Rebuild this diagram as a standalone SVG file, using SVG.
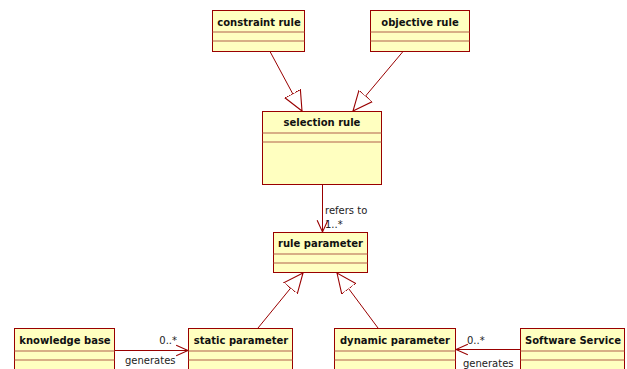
<svg xmlns="http://www.w3.org/2000/svg" width="627" height="369" viewBox="0 0 627 369">
  <style>
    .box { fill: #FFFFC0; stroke: #990000; stroke-width: 1; }
    .div { stroke: #B2604A; stroke-width: 1.2; }
    .title { font-family: "DejaVu Sans", Verdana, sans-serif; font-size: 10px; font-weight: bold; fill: #111; text-anchor: middle; }
    .lbl { font-family: "DejaVu Sans", Verdana, sans-serif; font-size: 10px; fill: #222; }
    .edge { stroke: #990000; stroke-width: 1; fill: none; }
  </style>
  <defs>
    <marker id="gen" markerUnits="userSpaceOnUse" markerWidth="22" markerHeight="22" refX="18" refY="8" orient="auto" viewBox="0 0 20 16">
      <path d="M18,8 L0,0 L0,16 Z" fill="#fff" stroke="#990000" stroke-width="1"/>
    </marker>
    <marker id="open" markerUnits="userSpaceOnUse" markerWidth="14" markerHeight="14" refX="11" refY="6" orient="auto" viewBox="0 0 13 12">
      <path d="M0,1 L11,6 L0,11" fill="none" stroke="#990000" stroke-width="1"/>
    </marker>
  </defs>

  <g id="connectors">
    <line class="edge" x1="270" y1="51.5" x2="302" y2="111" marker-end="url(#gen)"/>
    <line class="edge" x1="403" y1="51.5" x2="353" y2="111" marker-end="url(#gen)"/>
    <line class="edge" x1="322.5" y1="184.5" x2="322.5" y2="232" marker-end="url(#open)"/>
    <line class="edge" x1="258" y1="328" x2="303" y2="273" marker-end="url(#gen)"/>
    <line class="edge" x1="378" y1="328" x2="337" y2="273" marker-end="url(#gen)"/>
    <line class="edge" x1="115" y1="350.5" x2="188" y2="350.5" marker-end="url(#open)"/>
    <line class="edge" x1="520" y1="349.5" x2="456" y2="349.5" marker-end="url(#open)"/>
    <text class="lbl" x="325" y="214">refers to</text>
    <text class="lbl" x="325" y="228">1..*</text>
    <text class="lbl" x="177" y="344" text-anchor="end">0..*</text>
    <text class="lbl" x="125" y="364">generates</text>
    <text class="lbl" x="467" y="344">0..*</text>
    <text class="lbl" x="463" y="367">generates</text>
  </g>

  <g id="constraint-rule">
    <rect class="box" x="212.5" y="10.5" width="92" height="41"/>
    <line class="div" x1="212.5" y1="32" x2="304.5" y2="32"/>
    <line class="div" x1="212.5" y1="41" x2="304.5" y2="41"/>
    <text class="title" x="259" y="26">constraint rule</text>
  </g>
  <g id="objective-rule">
    <rect class="box" x="370.5" y="10.5" width="99" height="41"/>
    <line class="div" x1="370.5" y1="32" x2="469.5" y2="32"/>
    <line class="div" x1="370.5" y1="41" x2="469.5" y2="41"/>
    <text class="title" x="420" y="26">objective rule</text>
  </g>
  <g id="selection-rule">
    <rect class="box" x="262.5" y="111.5" width="119" height="73"/>
    <line class="div" x1="262.5" y1="133" x2="381.5" y2="133"/>
    <line class="div" x1="262.5" y1="142" x2="381.5" y2="142"/>
    <text class="title" x="322" y="126">selection rule</text>
  </g>
  <g id="rule-parameter">
    <rect class="box" x="273.5" y="232.5" width="94" height="40"/>
    <line class="div" x1="273.5" y1="254" x2="367.5" y2="254"/>
    <line class="div" x1="273.5" y1="263" x2="367.5" y2="263"/>
    <text class="title" x="320.5" y="247">rule parameter</text>
  </g>
  <g id="knowledge-base">
    <rect class="box" x="14.5" y="328.5" width="100" height="60"/>
    <line class="div" x1="14.5" y1="351" x2="114.5" y2="351"/>
    <line class="div" x1="14.5" y1="360" x2="114.5" y2="360"/>
    <text class="title" x="65" y="344">knowledge base</text>
  </g>
  <g id="static-parameter">
    <rect class="box" x="188.5" y="328.5" width="104" height="60"/>
    <line class="div" x1="188.5" y1="351" x2="292.5" y2="351"/>
    <line class="div" x1="188.5" y1="360" x2="292.5" y2="360"/>
    <text class="title" x="241" y="344">static parameter</text>
  </g>
  <g id="dynamic-parameter">
    <rect class="box" x="334.5" y="328.5" width="121" height="60"/>
    <line class="div" x1="334.5" y1="351" x2="455.5" y2="351"/>
    <line class="div" x1="334.5" y1="360" x2="455.5" y2="360"/>
    <text class="title" x="395" y="344">dynamic parameter</text>
  </g>
  <g id="software-service">
    <rect class="box" x="520.5" y="328.5" width="104" height="60"/>
    <line class="div" x1="520.5" y1="351" x2="624.5" y2="351"/>
    <line class="div" x1="520.5" y1="360" x2="624.5" y2="360"/>
    <text class="title" x="573" y="344">Software Service</text>
  </g>
</svg>
